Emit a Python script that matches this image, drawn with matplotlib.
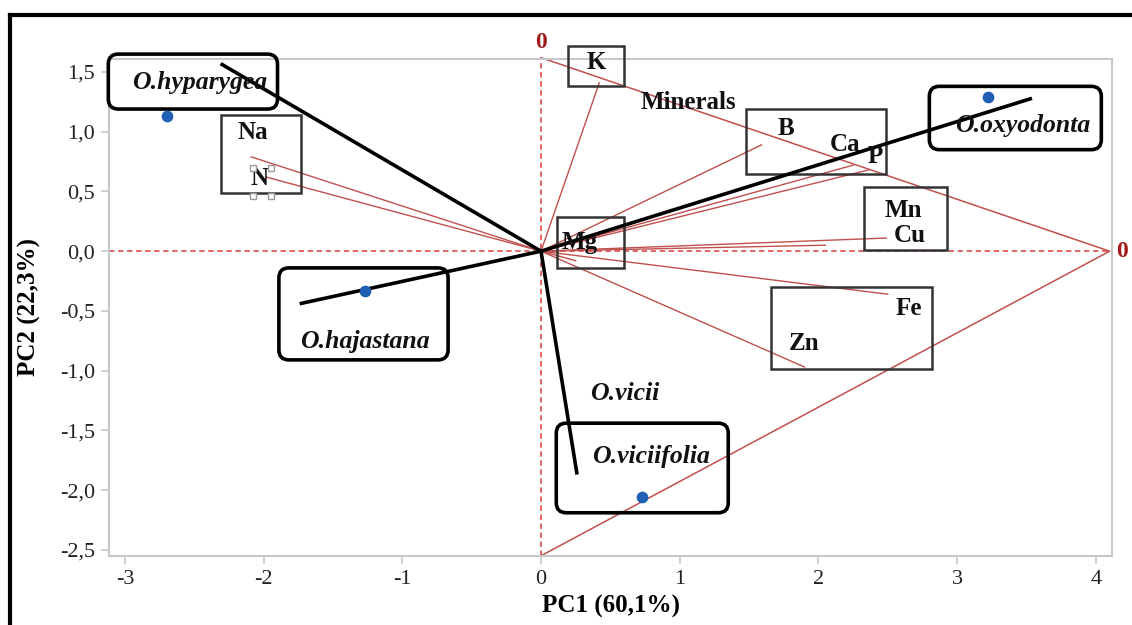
import matplotlib
matplotlib.use("Agg")
import matplotlib.pyplot as plt
from matplotlib.patches import FancyBboxPatch
from matplotlib.lines import Line2D
from matplotlib.ticker import FixedLocator, FuncFormatter

# Species scores on the first two principal components
species = ["O.hyparygea", "O.hajastana", "O.oxyodonta", "O.viciifolia"]
species_pc1 = [-2.70, -1.27, 3.22, 0.73]
species_pc2 = [1.13, -0.33, 1.29, -2.06]

# Species direction vectors drawn from the origin
species_vec_pc1 = [-2.31, -1.74, 3.54, 0.26]
species_vec_pc2 = [1.57, -0.44, 1.28, -1.87]

# Mineral loadings
minerals = ["K", "Na", "N", "B", "Ca", "P", "Mn", "Cu", "Fe", "Zn", "Mg"]
load_pc1 = [0.42, -2.09, -1.98, 1.59, 2.25, 2.36, 2.05, 2.49, 2.50, 1.90, 0.25]
load_pc2 = [1.41, 0.79, 0.62, 0.89, 0.72, 0.68, 0.05, 0.11, -0.36, -0.97, -0.08]

x_ticks = [-3, -2, -1, 0, 1, 2, 3, 4]
y_ticks = [1.5, 1.0, 0.5, 0.0, -0.5, -1.0, -1.5, -2.0, -2.5]

xlim = (-3.115, 4.117)
ylim = (-2.552, 1.609)

SERIF = ["Liberation Serif", "DejaVu Serif"]
RED = "#c0504d"
DASH_RED = "#e05a5a"
GRID_GRAY = "#c8c8cc"

fig = plt.figure(figsize=(11.32, 6.25), dpi=100)
W, H = 1132, 625
ax = fig.add_axes([109 / W, 1 - 556 / H, (1112 - 109) / W, (556 - 59) / H])
ax.set_xlim(*xlim)
ax.set_ylim(*ylim)

for s in ax.spines.values():
    s.set_color(GRID_GRAY)
    s.set_linewidth(1.5)
ax.xaxis.set_major_locator(FixedLocator(x_ticks))
ax.yaxis.set_major_locator(FixedLocator(y_ticks))
ax.xaxis.set_major_formatter(FuncFormatter(lambda v, p: f"{v:g}"))
ax.yaxis.set_major_formatter(FuncFormatter(lambda v, p: f"{v:.1f}".replace(".", ",")))
ax.tick_params(axis="both", color=GRID_GRAY, length=6, width=1.2,
               labelsize=16, labelcolor="#222222", pad=4)
for lab in ax.get_xticklabels() + ax.get_yticklabels():
    lab.set_family(SERIF)

ax.set_xlabel("PC1 (60,1%)", family=SERIF, fontsize=18, fontweight="bold", labelpad=4)
ax.set_ylabel("PC2 (22,3%)", family=SERIF, fontsize=18, fontweight="bold", labelpad=14)

# Reference axes through the origin
ax.plot([0, 0], [ylim[0], 1.62], ls=(0, (3, 2)), color=DASH_RED, lw=1.3, clip_on=False, zorder=1)
ax.plot([xlim[0], 4.10], [0, 0], ls=(0, (3, 2)), color=DASH_RED, lw=1.3, clip_on=False, zorder=1)

# Triangle guide lines
ax.plot([0, 4.10, 0], [1.62, 0, -2.55], color=RED, lw=1.1, clip_on=False, zorder=1)
ax.text(0, 1.75, "0", color="#a01c1c", family=SERIF, fontsize=17, fontweight="bold",
        ha="center", va="center")
ax.text(4.19, 0, "0", color="#a01c1c", family=SERIF, fontsize=17, fontweight="bold",
        ha="center", va="center", clip_on=False)

# Mineral loading vectors
for x, y in zip(load_pc1, load_pc2):
    ax.plot([0, x], [0, y], color=RED, lw=1.0, zorder=2)

# Species vectors and points
for x, y in zip(species_vec_pc1, species_vec_pc2):
    ax.plot([0, x], [0, y], color="black", lw=2.6, solid_capstyle="butt", zorder=4, clip_on=False)
ax.scatter(species_pc1, species_pc2, s=55, color="#1f5fb4", zorder=5, clip_on=False)

px_x = (xlim[1] - xlim[0]) / (1112 - 109)
px_y = (ylim[1] - ylim[0]) / (556 - 59)


def frame(x0, x1, y0, y1, rounded):
    if rounded:
        r = 10 * px_x
        style = f"round,pad=0,rounding_size={r}"
        p = FancyBboxPatch((x0, y0), x1 - x0, y1 - y0, boxstyle=style,
                           mutation_aspect=px_y / px_x, fc="none", ec="black",
                           lw=2.6, clip_on=False, zorder=3)
    else:
        p = FancyBboxPatch((x0, y0), x1 - x0, y1 - y0, boxstyle="square,pad=0",
                           fc="none", ec="#333333", lw=1.8, clip_on=False, zorder=3)
    ax.add_patch(p)


# Species frames
frame(-3.12, -1.90, 1.19, 1.65, True)
frame(-1.89, -0.67, -0.91, -0.14, True)
frame(2.80, 4.04, 0.85, 1.38, True)
frame(0.11, 1.35, -2.19, -1.44, True)

# Mineral group frames
frame(-2.31, -1.73, 0.485, 1.14, False)
frame(0.195, 0.60, 1.38, 1.72, False)
frame(1.48, 2.49, 0.65, 1.19, False)
frame(2.33, 2.93, 0.01, 0.54, False)
frame(0.115, 0.60, -0.14, 0.285, False)
frame(1.66, 2.82, -0.99, -0.30, False)

sp_kw = dict(family=SERIF, fontsize=18.5, fontweight="bold", style="italic",
             ha="center", va="center", color="#111111", zorder=6)
ax.text(-2.46, 1.41, "O.hyparygea", **sp_kw)
ax.text(-1.27, -0.76, "O.hajastana", **sp_kw)
ax.text(3.475, 1.05, "O.oxyodonta", **sp_kw)
ax.text(0.79, -1.72, "O.viciifolia", **sp_kw)
ax.text(0.605, -1.19, "O.vicii", **sp_kw)

el_kw = dict(family=SERIF, fontsize=18, fontweight="bold", ha="center", va="center",
             color="#111111", zorder=6)
ax.text(1.06, 1.245, "Minerals", **el_kw)
ax.text(0.40, 1.58, "K", **el_kw)
ax.text(-2.08, 0.99, "Na", **el_kw)
ax.text(-2.03, 0.61, "N", **el_kw)
ax.text(1.77, 1.03, "B", **el_kw)
ax.text(2.19, 0.89, "Ca", **el_kw)
ax.text(2.41, 0.79, "P", **el_kw)
ax.text(2.61, 0.34, "Mn", **el_kw)
ax.text(2.66, 0.13, "Cu", **el_kw)
ax.text(0.28, 0.075, "Mg", **el_kw)
ax.text(2.65, -0.48, "Fe", **el_kw)
ax.text(1.90, -0.77, "Zn", **el_kw)

# Selection handles around the N label
hx = [-2.08, -1.95]
hy = [0.70, 0.465]
for x in hx:
    for y in hy:
        ax.plot(x, y, marker="s", ms=5, mfc="white", mec="#999999", mew=1.0, zorder=7,
                clip_on=False)

# Outer border
fig.add_artist(Line2D([10 / W, 1.0], [1 - 15 / H, 1 - 15 / H], transform=fig.transFigure,
                      color="black", lw=3))
fig.add_artist(Line2D([10 / W, 10 / W], [0, 1 - 15 / H], transform=fig.transFigure,
                      color="black", lw=3))

fig.savefig("out.png", dpi=100, facecolor="white")
